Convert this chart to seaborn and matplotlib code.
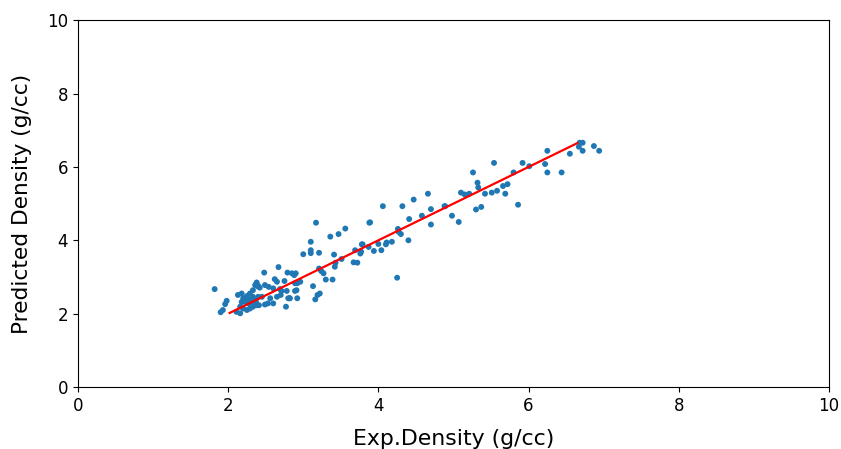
import matplotlib
matplotlib.use("Agg")
import matplotlib.pyplot as plt
import seaborn as sns
import pandas as pd

exp_density = [
    1.82, 1.98, 1.96, 1.93, 1.90,
    2.13, 2.18, 2.25, 2.29, 2.33, 2.36, 2.39, 2.18, 2.16, 2.20, 2.25, 2.29, 2.33, 2.38,
    2.22, 2.27, 2.31, 2.36, 2.11, 2.16, 2.40, 2.33, 2.27, 2.20,
    2.67, 2.48, 2.79, 2.62, 2.65, 2.75, 2.85, 2.90, 2.89, 2.92, 2.38, 2.40, 2.42, 2.49,
    2.54, 2.60, 2.69, 2.71, 2.78, 2.91, 2.80, 2.82, 2.77, 2.45, 2.56, 2.65, 2.70, 2.37,
    2.41, 2.49, 2.53, 2.60, 2.92, 2.89, 2.96, 2.88, 2.82,
    3.17, 3.10, 3.10, 3.10, 3.00, 3.21, 3.36, 3.47, 3.56, 3.88, 3.41, 3.51, 3.42, 3.43,
    3.67, 3.72, 3.69, 3.78, 3.76, 3.87, 3.21, 3.24, 3.27, 3.30, 3.39, 3.13, 3.22, 3.19, 3.16,
    4.06, 3.89, 4.32, 4.47, 4.66, 4.41, 4.58, 4.70, 4.70, 4.89, 4.26, 4.27, 4.30, 4.40,
    4.18, 4.11, 4.10, 4.00, 4.04, 3.94, 3.79, 3.77, 4.25,
    5.54, 5.92, 6.01, 5.80, 5.26, 5.32, 5.33, 5.10, 5.15, 5.21, 5.42, 5.51, 5.58, 5.66,
    5.72, 5.69, 5.86, 4.88, 4.98, 5.07, 5.30, 5.37,
    6.68, 6.72, 6.67, 6.72, 6.87, 6.94, 6.55, 6.25, 6.22, 6.25, 6.44,
]
pred_density = [
    2.67, 2.35, 2.26, 2.10, 2.04,
    2.51, 2.55, 2.48, 2.55, 2.64, 2.78, 2.75, 2.32, 2.19, 2.14, 2.10, 2.14, 2.19, 2.23,
    2.32, 2.28, 2.32, 2.37, 2.05, 2.01, 2.46, 2.46, 2.39, 2.42,
    3.27, 3.12, 3.12, 2.94, 2.87, 2.89, 3.10, 3.10, 2.83, 2.83, 2.85, 2.76, 2.71, 2.78,
    2.73, 2.69, 2.67, 2.62, 2.62, 2.64, 2.42, 2.42, 2.19, 2.46, 2.42, 2.46, 2.51, 2.32,
    2.23, 2.25, 2.28, 2.28, 2.42, 2.62, 2.87, 3.05, 2.42,
    4.48, 3.96, 3.73, 3.65, 3.62, 3.66, 4.10, 4.17, 4.32, 4.48, 3.61, 3.49, 3.28, 3.39,
    3.40, 3.39, 3.73, 3.89, 3.64, 3.82, 3.23, 3.16, 3.10, 2.93, 2.93, 2.75, 2.55, 2.51, 2.39,
    4.93, 4.49, 4.93, 5.11, 5.27, 4.58, 4.67, 4.85, 4.43, 4.93, 4.31, 4.23, 4.17, 4.00,
    3.96, 3.94, 3.89, 3.90, 3.73, 3.71, 3.89, 3.69, 2.98,
    6.11, 6.11, 6.02, 5.85, 5.85, 5.57, 5.44, 5.30, 5.25, 5.27, 5.27, 5.30, 5.35, 5.48,
    5.53, 5.27, 4.97, 4.93, 4.67, 4.50, 4.84, 4.91,
    6.66, 6.66, 6.55, 6.44, 6.57, 6.44, 6.36, 6.44, 6.08, 5.85, 5.85,
]
line_x = [2.02, 6.65]
line_y = [2.02, 6.65]

df = pd.DataFrame({"exp": exp_density, "pred": pred_density})
line_df = pd.DataFrame({"x": line_x, "y": line_y})

plt.rcdefaults()
plt.rcParams["font.family"] = ["DejaVu Sans"]
fig = plt.figure(figsize=(8.41, 4.49), dpi=100)
ax = fig.add_axes([0.0927, 0.138, 0.893, 0.817])
sns.scatterplot(data=df, x="exp", y="pred", ax=ax, s=18, color="#1f77b4",
                edgecolor="none", linewidth=0)
sns.lineplot(data=line_df, x="x", y="y", ax=ax, color="red", linewidth=1.6)
ax.set_xlim(0, 10)
ax.set_ylim(0, 10)
ax.set_xticks([0, 2, 4, 6, 8, 10])
ax.set_yticks([0, 2, 4, 6, 8, 10])
ax.tick_params(labelsize=12, colors="black")
ax.set_xlabel("Exp.Density (g/cc)", fontsize=15.8, color="black", labelpad=10)
ax.set_ylabel("Predicted Density (g/cc)", fontsize=15.6, color="black", labelpad=11)
fig.savefig("out.png", dpi=100)
